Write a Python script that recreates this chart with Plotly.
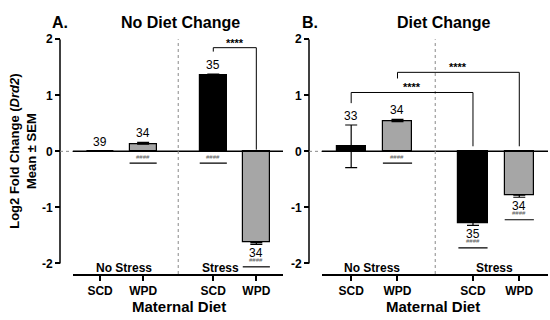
import plotly.graph_objects as go

# ---------------- data ----------------
diets = ["SCD", "WPD", "SCD", "WPD"]
stress_groups = ["No Stress", "Stress"]
group_of_bar = [0, 0, 1, 1]

a_mean = [0.00, 0.13, 1.35, -1.63]
a_sem = [0.00, 0.03, 0.03, 0.03]
a_n = [39, 34, 35, 34]
a_hash = ["", "####", "####", "####"]

b_mean = [0.09, 0.53, -1.28, -0.78]
b_sem = [0.38, 0.04, 0.04, 0.04]
b_n = [33, 34, 35, 34]
b_hash = ["", "####", "####", "####"]

bar_colors = ["#000000", "#A6A6A6", "#000000", "#A6A6A6"]

# brackets: (bar i, bar j, top, left leg bottom, right leg bottom, label)
a_brackets = [(2, 3, 1.85, 1.78, 0.03, "****")]
b_brackets = [(0, 2, 1.05, 0.86, 0.09, "****"), (1, 3, 1.41, 1.30, 0.09, "****")]

y_ticks = [-2, -1, 0, 1, 2]
y_ticktext = ["-2", "-1", "0", "1", "2"]

# ---------------- layout helpers ----------------
W, H = 550, 320
FONT = "Liberation Sans, Arial, sans-serif"
GAP = 1.63
xpos = [k + group_of_bar[k] * (GAP - 1) for k in range(4)]
sep_x = (xpos[1] + xpos[2]) / 2
XR = [-0.63, 4.25]
YR = [-2.19, 2.0]
y_dom = [1 - 273 / H, 1 - 33 / H]
ppu = (273 - 33) / (YR[1] - YR[0])  # pixels per y unit
BW = 0.63


def px(v):
    return v / W


def py(v):
    return 1 - v / H


fig = go.Figure()
shapes = []
annotations = []

panels = [
    dict(mean=a_mean, sem=a_sem, n=a_n, hsh=a_hash, br=a_brackets, xa="x", ya="y",
         xdom=[73, 283], yaxis_px=60, letter="A.", letter_x=60, title="No Diet Change",
         title_x=180, md_x=179, grp_x=[0.55, 2.8]),
    dict(mean=b_mean, sem=b_sem, n=b_n, hsh=b_hash, br=b_brackets, xa="x2", ya="y2",
         xdom=[322, 548], yaxis_px=309, letter="B.", letter_x=310, title="Diet Change",
         title_x=443, md_x=433, grp_x=[0.45, 3.1]),
]

for p in panels:
    mean, sem = p["mean"], p["sem"]
    up, down = [], []
    for m, s, c in zip(mean, sem, bar_colors):
        if c == "#000000":
            up.append(s); down.append(s)
        elif m >= 0:
            up.append(s); down.append(0)
        else:
            up.append(0); down.append(s)
    fig.add_trace(go.Bar(
        x=xpos, y=mean, width=BW, xaxis=p["xa"], yaxis=p["ya"],
        marker=dict(color=bar_colors, line=dict(color="black", width=1.2)),
        error_y=dict(type="data", array=up, arrayminus=down, symmetric=False,
                     color="black", thickness=1.2, width=6),
        showlegend=False, hoverinfo="skip"))

    yref = p["ya"]
    xref = p["xa"]
    shapes.append(dict(type="line", xref="paper", yref=yref, x0=px(p["yaxis_px"]),
                       x1=px(p["yaxis_px"]), y0=-2, y1=2, line=dict(color="black", width=1.5)))
    shapes.append(dict(type="line", xref="paper", yref=yref, x0=px(p["xdom"][0]),
                       x1=px(p["xdom"][1]), y0=0, y1=0, line=dict(color="black", width=1.5)))
    shapes.append(dict(type="line", xref="paper", yref=yref, x0=px(p["yaxis_px"]),
                       x1=px(p["xdom"][0]), y0=0, y1=0,
                       line=dict(color="#888888", width=1, dash="dot")))
    shapes.append(dict(type="line", xref=xref, yref="paper", x0=sep_x, x1=sep_x,
                       y0=py(273), y1=py(33), line=dict(color="#888888", width=1, dash="dot")))

    for k in range(4):
        m, s = mean[k], sem[k]
        if m >= 0:
            yv, sh = m + s, 9
        else:
            yv, sh = m - s, -9
        annotations.append(dict(x=xpos[k], y=yv, xref=xref, yref=yref, text=str(p["n"][k]),
                                showarrow=False, yshift=sh, yanchor="middle", xanchor="center",
                                font=dict(family=FONT, size=12, color="black")))
        if p["hsh"][k]:
            if m >= 0:
                hy, hs, ly = 0, -6, -12 / ppu
            else:
                hy, hs, ly = m - s, -16, m - s - 23 / ppu
            annotations.append(dict(x=xpos[k], y=hy, xref=xref, yref=yref, text=p["hsh"][k],
                                    showarrow=False, yshift=hs, yanchor="middle", xanchor="center",
                                    font=dict(family=FONT, size=6, color="#555555")))
            shapes.append(dict(type="line", xref=xref, yref=yref, x0=xpos[k] - BW / 2,
                               x1=xpos[k] + BW / 2, y0=ly, y1=ly,
                               line=dict(color="black", width=1.2)))

    for (i, j, top, lb, rb, lab) in p["br"]:
        xi, xj = xpos[i], xpos[j]
        for (x0, y0, x1, y1) in [(xi, lb, xi, top), (xi, top, xj, top), (xj, top, xj, rb)]:
            shapes.append(dict(type="line", xref=xref, yref=yref, x0=x0, x1=x1, y0=y0, y1=y1,
                               line=dict(color="black", width=1)))
        annotations.append(dict(x=(xi + xj) / 2, y=top, xref=xref, yref=yref, text="<b>" + lab + "</b>",
                                showarrow=False, yanchor="bottom", xanchor="center", yshift=-3,
                                font=dict(family=FONT, size=11, color="black")))

    for g, gx in enumerate(p["grp_x"]):
        annotations.append(dict(x=gx, y=py(267), xref=xref, yref="paper",
                                text="<b>" + stress_groups[g] + "</b>", showarrow=False,
                                yanchor="middle", xanchor="center",
                                font=dict(family=FONT, size=12, color="black")))
    annotations.append(dict(x=px(p["letter_x"]), y=py(16), xref="paper", yref="paper",
                            text="<b>" + p["letter"] + "</b>", showarrow=False, yanchor="middle",
                            xanchor="center", font=dict(family=FONT, size=16, color="black")))
    annotations.append(dict(x=px(p["title_x"]), y=py(16), xref="paper", yref="paper",
                            text="<b>" + p["title"] + "</b>", showarrow=False, yanchor="middle",
                            xanchor="center", font=dict(family=FONT, size=16, color="black")))
    annotations.append(dict(x=px(p["md_x"]), y=py(306), xref="paper", yref="paper",
                            text="<b>Maternal Diet</b>", showarrow=False, yanchor="middle",
                            xanchor="center", font=dict(family=FONT, size=15, color="black")))

annotations.append(dict(x=px(23), y=py(148), xref="paper", yref="paper",
                        text="<b>Log2 Fold Change (<i>Drd2</i>)<br>Mean ± SEM</b>",
                        showarrow=False, textangle=-90, xanchor="center", yanchor="middle",
                        font=dict(family=FONT, size=13, color="black")))

xcommon = dict(range=XR, tickvals=xpos, ticktext=["<b>" + d + "</b>" for d in diets],
               showline=True, linecolor="black", linewidth=1.5, ticks="outside", ticklen=5,
               tickwidth=1.5, tickcolor="black", showgrid=False, zeroline=False,
               tickfont=dict(family=FONT, size=12, color="black"), fixedrange=True)
ycommon = dict(range=YR, domain=y_dom, tickvals=y_ticks,
               ticktext=["<b>" + t + "</b>" for t in y_ticktext], showline=False,
               ticks="outside", ticklen=5, tickwidth=1.5, tickcolor="black", showgrid=False,
               zeroline=False, anchor="free", tickfont=dict(family=FONT, size=12, color="black"))

fig.update_layout(
    width=W, height=H, margin=dict(l=0, r=0, t=0, b=0),
    paper_bgcolor="white", plot_bgcolor="white",
    xaxis=dict(xcommon, domain=[px(73), px(283)], anchor="y"),
    xaxis2=dict(xcommon, domain=[px(322), px(548)], anchor="y2"),
    yaxis=dict(ycommon, position=px(60)),
    yaxis2=dict(ycommon, position=px(309)),
    shapes=shapes, annotations=annotations, bargap=0,
    font=dict(family=FONT, color="black"),
)

fig.write_html("out.html", config={"displayModeBar": False},
               post_script="document.body.style.margin='0';document.body.style.padding='0';document.body.style.overflow='hidden';")
